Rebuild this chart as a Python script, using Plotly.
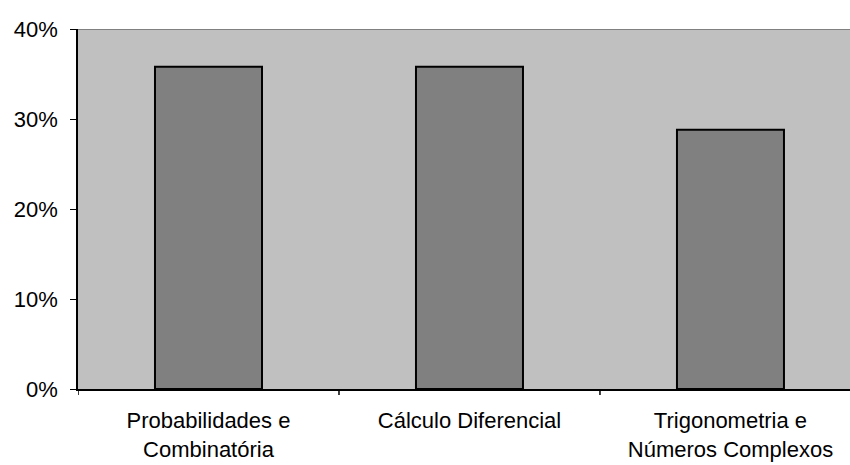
import plotly.graph_objects as go

categories = ["Probabilidades e<br>Combinatória", "Cálculo Diferencial", "Trigonometria e<br>Números Complexos"]
values = [35.8, 35.8, 28.8]
y_ticks = [0, 10, 20, 30, 40]
y_tick_labels = ["0%", "10%", "20%", "30%", "40%"]

fig = go.Figure()
fig.add_trace(go.Bar(
    x=list(range(len(categories))),
    y=values,
    marker=dict(color="#808080", line=dict(color="black", width=2)),
    hoverinfo="skip",
))

font_family = "Liberation Sans, Arial, Helvetica, sans-serif"

fig.update_layout(
    width=850,
    height=465,
    margin=dict(l=78, r=0, t=29, b=76),
    paper_bgcolor="white",
    plot_bgcolor="#c0c0c0",
    bargap=0.59,
    showlegend=False,
    font=dict(family=font_family, size=22, color="black"),
    xaxis=dict(
        tickmode="array",
        tickvals=list(range(len(categories))),
        ticktext=categories,
        range=[-0.5, 2.458],
        showline=True,
        linecolor="black",
        linewidth=1.5,
        ticks="",
        showgrid=False,
        zeroline=False,
        ticklabelstandoff=11,
        tickfont=dict(size=22),
    ),
    yaxis=dict(
        range=[0, 40],
        tickvals=y_ticks,
        ticktext=y_tick_labels,
        showline=True,
        linecolor="black",
        linewidth=1.5,
        ticks="outside",
        ticklen=6,
        tickcolor="black",
        showgrid=False,
        zeroline=False,
        ticklabelstandoff=8,
        tickfont=dict(size=22),
    ),
)

# category boundary tick marks below the x axis
for b in [-0.5, 0.5, 1.5]:
    fig.add_shape(type="line", xref="x", yref="paper", x0=b, x1=b, y0=0, y1=-0.017,
                  line=dict(color="black", width=1.5))

# top border of plot area
fig.add_shape(type="line", xref="paper", yref="y", x0=0, x1=1, y0=40, y1=40,
              line=dict(color="#808080", width=2))

fig.write_html("out.html")
